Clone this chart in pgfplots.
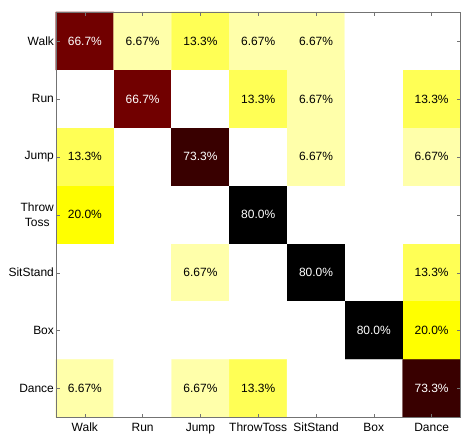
\documentclass[border=0pt]{standalone}
\usepackage{pgfplots}
\pgfplotsset{compat=1.18}
\usepackage{fontspec}
\setmainfont{Liberation Sans}
\begin{document}
\begin{tikzpicture}
\begin{axis}[
  scale only axis,
  width=405pt, height=406pt,
  xmin=-0.5, xmax=6.5, ymin=-0.5, ymax=6.5,
  y dir=reverse,
  axis line style={draw=black!55},
  every tick/.style={draw=black!55},
  tick align=inside,
  tick pos=both,
  major tick length=4pt,
  xtick={0,...,6}, ytick={0,...,6},
  xticklabels={Walk,Run,Jump,ThrowToss,SitStand,Box,Dance},
  yticklabels={Walk,Run,Jump,{Throw\\Toss},SitStand,Box,Dance},
  tick label style={font=\fontsize{12}{15}\selectfont},
  yticklabel style={align=center, xshift=1.5pt, font=\fontsize{12}{15}\selectfont},
  xticklabel style={yshift=-2pt, font=\fontsize{12}{15}\selectfont},
  colormap={hotr}{rgb255(0pt)=(255,255,255); rgb255(20pt)=(255,255,0); rgb255(50pt)=(255,0,0); rgb255(80pt)=(0,0,0)},
  point meta min=0, point meta max=80,
  axis on top,
  clip=false,
]
\addplot[matrix plot*, mesh/cols=7, point meta=explicit] table[meta=c] {
x y c
0 0 66.7
1 0 6.67
2 0 13.3
3 0 6.67
4 0 6.67
5 0 0
6 0 0
0 1 0
1 1 66.7
2 1 0
3 1 13.3
4 1 6.67
5 1 0
6 1 13.3
0 2 13.3
1 2 0
2 2 73.3
3 2 0
4 2 6.67
5 2 0
6 2 6.67
0 3 20.0
1 3 0
2 3 0
3 3 80.0
4 3 0
5 3 0
6 3 0
0 4 0
1 4 0
2 4 6.67
3 4 0
4 4 80.0
5 4 0
6 4 13.3
0 5 0
1 5 0
2 5 0
3 5 0
4 5 0
5 5 80.0
6 5 20.0
0 6 6.67
1 6 0
2 6 6.67
3 6 13.3
4 6 0
5 6 0
6 6 73.3
};
% dark cells: white labels
\addplot[draw=none, mark=none, point meta=explicit symbolic,
  nodes near coords={\pgfplotspointmeta\%},
  nodes near coords style={anchor=center, text=white, font=\fontsize{12}{14}\selectfont}]
coordinates {(0,0)[66.7] (1,1)[66.7] (2,2)[73.3] (3,3)[80.0] (4,4)[80.0] (5,5)[80.0] (6,6)[73.3]};
% light cells: black labels
\addplot[draw=none, mark=none, point meta=explicit symbolic,
  nodes near coords={\pgfplotspointmeta\%},
  nodes near coords style={anchor=center, text=black, font=\fontsize{12}{14}\selectfont}]
coordinates {(1,0)[6.67] (2,0)[13.3] (3,0)[6.67] (4,0)[6.67]
(3,1)[13.3] (4,1)[6.67] (6,1)[13.3]
(0,2)[13.3] (4,2)[6.67] (6,2)[6.67]
(0,3)[20.0]
(2,4)[6.67] (6,4)[13.3]
(6,5)[20.0]
(0,6)[6.67] (2,6)[6.67] (3,6)[13.3]};
\end{axis}
\pgfresetboundingbox
\path[use as bounding box] (-56pt,-16pt) rectangle (405.5pt,418pt);
\end{tikzpicture}
\end{document}
